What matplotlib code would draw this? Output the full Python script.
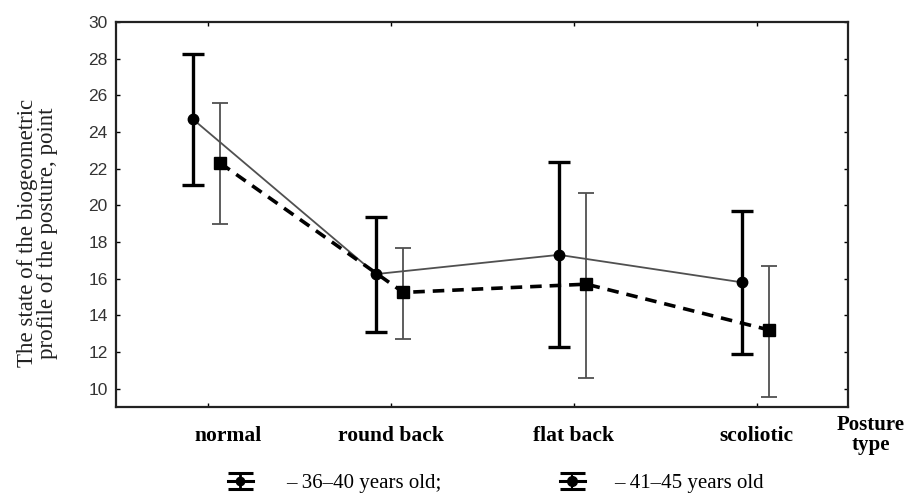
import matplotlib
matplotlib.use("Agg")
import matplotlib.pyplot as plt
import matplotlib.transforms as mtransforms
from matplotlib.legend_handler import HandlerErrorbar
import numpy as np

categories = ["normal", "round back", "flat back", "scoliotic"]
mean_36_40 = [24.7, 16.25, 17.3, 15.8]
upper_36_40 = [28.25, 19.35, 22.35, 19.7]
lower_36_40 = [21.1, 13.1, 12.25, 11.9]
mean_41_45 = [22.3, 15.25, 15.7, 13.2]
upper_41_45 = [25.6, 17.7, 20.7, 16.7]
lower_41_45 = [19.0, 12.7, 10.6, 9.55]
y_ticks = [10, 12, 14, 16, 18, 20, 22, 24, 26, 28, 30]
legend_labels = ["– 36–40 years old;", "– 41–45 years old"]

serif = "Liberation Serif"
sans = "Liberation Sans"

fig = plt.figure(figsize=(9.09, 4.93), dpi=100)
ax = fig.add_axes([0.1276, 0.1744, 0.933 - 0.1276, 0.9554 - 0.1744])

x = np.arange(1, len(categories) + 1)
off1, off2 = -0.08, 0.07
m1 = np.array(mean_36_40); m2 = np.array(mean_41_45)
err1 = [m1 - np.array(lower_36_40), np.array(upper_36_40) - m1]
err2 = [m2 - np.array(lower_41_45), np.array(upper_41_45) - m2]

ax.plot(x + off1, m1, color="#505050", lw=1.3, zorder=2)
ax.plot(x + off2, m2, color="black", lw=2.6, ls=(0, (3.2, 2.2)), zorder=2)

ax.errorbar(x + off1, m1, yerr=err1, fmt="o", color="black", ms=7.5,
            elinewidth=2.4, capsize=8, capthick=2.4, zorder=3)
ax.errorbar(x + off2, m2, yerr=err2, fmt="s", color="black", ms=8.5,
            ecolor="#505050", elinewidth=1.3, capsize=6, capthick=1.3, zorder=3)

ax.set_xlim(0.5, 4.5)
ax.set_ylim(9, 30)
ax.set_yticks(y_ticks)
ax.set_yticklabels([str(t) for t in y_ticks], fontfamily=sans, fontsize=12.5,
                   color="#333333")
ax.set_xticks(x)
ax.set_xticklabels(categories, fontfamily=serif, fontweight="bold", fontsize=15.5)
ax.tick_params(axis="both", direction="in", length=3, width=1, top=True, right=True)
ax.tick_params(axis="x", pad=14)
ax.tick_params(axis="y", pad=6)
for s in ax.spines.values():
    s.set_linewidth(1.6)
    s.set_color("#222222")

# first category label sits slightly right of its tick in the reference
lbl0 = ax.get_xticklabels()[0]
lbl0.set_transform(lbl0.get_transform() +
                   mtransforms.ScaledTranslation(0.21, 0, fig.dpi_scale_trans))

ax.set_ylabel("The state of the biogeometric\nprofile of the posture, point",
              fontfamily=serif, fontsize=16.5, linespacing=0.92, color="#222222")
ax.yaxis.set_label_coords(-0.079, 0.452)

fig.text(0.958, 0.118, "Posture\ntype", fontfamily=serif, fontweight="bold",
         fontsize=15, ha="center", va="center", linespacing=1.0)

# legend proxies (no data drawn)
h1 = ax.errorbar([np.nan], [np.nan], yerr=[[np.nan], [np.nan]], fmt="-o",
                 color="black", lw=2.2, ms=6, elinewidth=2, capsize=9, capthick=2.2)
h2 = ax.errorbar([np.nan], [np.nan], yerr=[[np.nan], [np.nan]], fmt="-o",
                 color="black", lw=2.2, ms=7, elinewidth=1.5, capsize=9, capthick=2.2)

hm = {type(h1): HandlerErrorbar(yerr_size=0.38)}
common = dict(frameon=False, prop={"family": serif, "size": 15}, loc="center left",
              borderpad=0, borderaxespad=0, handlelength=1.2, handler_map=hm)
leg1 = fig.legend([h1], [legend_labels[0]], bbox_to_anchor=(0.2508, 0.02),
                  handletextpad=1.6, **common)
leg2 = fig.legend([h2], [legend_labels[1]], bbox_to_anchor=(0.616, 0.02),
                  handletextpad=1.4, **common)

fig.savefig("out.png", dpi=100)
